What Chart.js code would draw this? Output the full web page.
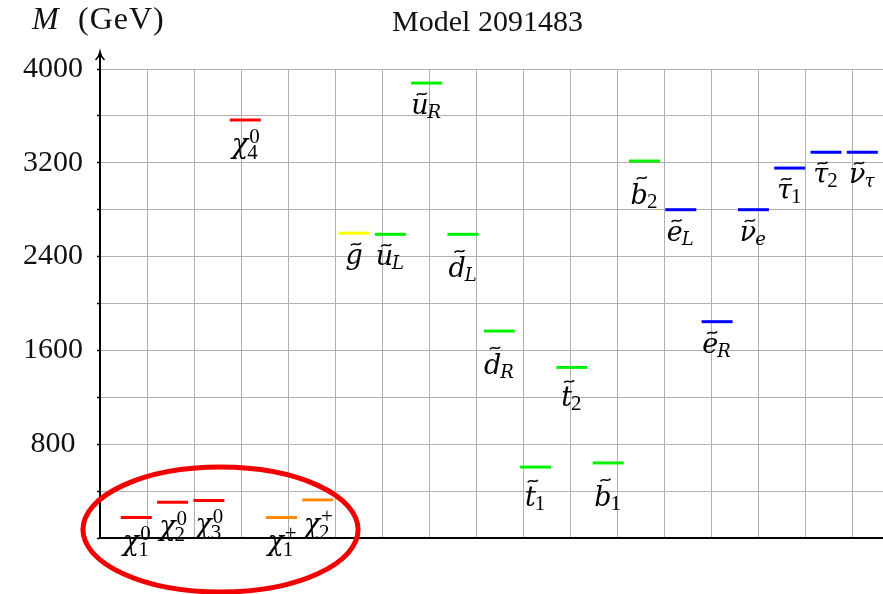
<!DOCTYPE html>
<html>
<head>
<meta charset="utf-8">
<title>Model 2091483</title>
<script src="https://cdn.jsdelivr.net/npm/chart.js@4.4.1/dist/chart.umd.min.js"></script>
<style>
  html, body { margin: 0; padding: 0; background: #fff; }
  #spectrum { display: block; }
</style>
</head>
<body>
<canvas id="spectrum" width="883" height="594"></canvas>
<script>
// sparticle mass spectrum, one short level per state (GeV)
const particles = ['χ_1^0', 'χ_2^0', 'χ_3^0', 'χ_4^0', 'χ_1^+', 'χ_2^+',
                   '~g', '~u_L', '~u_R', '~d_L', '~d_R', '~t_1', '~t_2', '~b_1', '~b_2',
                   '~e_L', '~e_R', '~ν_e', '~τ_1', '~τ_2', '~ν_τ'];
const masses = [175, 305, 320, 3565, 175, 325,
                2600, 2590, 3880, 2590, 1765, 605, 1455, 640, 3215,
                2800, 1845, 2800, 3155, 3290, 3290];
const families = ['neutralino', 'neutralino', 'neutralino', 'neutralino', 'chargino', 'chargino',
                  'gluino', 'squark', 'squark', 'squark', 'squark', 'squark', 'squark', 'squark', 'squark',
                  'slepton', 'slepton', 'slepton', 'slepton', 'slepton', 'slepton'];
const yTickLabels = [800, 1600, 2400, 3200, 4000];

const familyColors = {
    neutralino: '#ff0000',
    chargino: '#ff8a00',
    gluino: '#ffff00',
    squark: '#00f000',
    slepton: '#0000ff'
};

// x runs in slot units (one slot per state), background grid is coarser
const GRID_STEP = 1.2948;
const X_MAX = 21.57;

// red ring around the light gauginos (slot / GeV units)
const ring = { x: 3.32, y: 72, rx: 3.79, ry: 533 };

const SERIF = '"Liberation Serif", "Times New Roman", serif';
const MATH = '"DejaVu Serif", serif';
const TALL = new Set(['b', 'd']);

function parseLabel(s) {
    const tilde = s[0] === '~';
    if (tilde) s = s.slice(1);
    const m = s.match(/^(.)(?:_([^\^]+))?(?:\^(.+))?$/u);
    return { tilde, base: m[1], sub: m[2] || '', sup: m[3] || '' };
}

function scriptFont(t) {
    return /^[0-9+]+$/.test(t) ? `21px ${SERIF}` : `italic 18px ${MATH}`;
}

function drawLabel(ctx, lab, cx, barY) {
    const baseFont = `italic 27px ${MATH}`;
    ctx.font = baseFont;
    const bm = ctx.measureText(lab.base);
    const bw = bm.width;
    const asc = bm.actualBoundingBoxAscent;
    ctx.font = scriptFont(lab.sub);
    const subW = lab.sub ? ctx.measureText(lab.sub).width : 0;
    ctx.font = scriptFont(lab.sup);
    const supW = lab.sup ? ctx.measureText(lab.sup).width : 0;

    const total = bw + Math.max(subW, supW);
    const x0 = cx - total / 2;
    let drop = 33;
    if (lab.tilde) drop = TALL.has(lab.base) ? 43 : (lab.base === 't' ? 39 : 31);
    const base = barY + drop;

    ctx.fillStyle = '#000';
    ctx.textAlign = 'left';
    ctx.textBaseline = 'alphabetic';
    ctx.font = baseFont;
    ctx.fillText(lab.base, x0, base);

    if (lab.tilde) {
        const tx = x0 + bw / 2 + asc * 0.12;
        const ty = base - asc - 5;
        ctx.save();
        ctx.strokeStyle = '#000';
        ctx.lineWidth = 1.5;
        ctx.beginPath();
        ctx.moveTo(tx - 5, ty + 1.3);
        ctx.bezierCurveTo(tx - 2.5, ty - 3, tx + 2.5, ty + 3, tx + 5, ty - 1.3);
        ctx.stroke();
        ctx.restore();
    }
    if (lab.sup) {
        ctx.font = scriptFont(lab.sup);
        ctx.fillText(lab.sup, x0 + bw + 1, base - 10);
    }
    if (lab.sub) {
        ctx.font = scriptFont(lab.sub);
        ctx.fillText(lab.sub, x0 + bw - 1, base + (lab.sup ? 6 : 4));
    }
}

const spectrumDecor = {
    id: 'spectrumDecor',
    afterDatasetsDraw(chart) {
        const ctx = chart.ctx;
        const meta = chart.getDatasetMeta(0);
        ctx.save();
        meta.data.forEach((pt, i) => {
            drawLabel(ctx, parseLabel(particles[i]), pt.x, pt.y);
        });
        ctx.restore();
    },
    afterDraw(chart) {
        const ctx = chart.ctx;
        const { left, top, right } = chart.chartArea;
        ctx.save();

        // arrow on top of the mass axis
        ctx.strokeStyle = '#000';
        ctx.lineWidth = 2;
        ctx.beginPath();
        ctx.moveTo(left, top);
        ctx.lineTo(left, top - 16);
        ctx.stroke();
        ctx.lineWidth = 1.6;
        ctx.beginPath();
        ctx.moveTo(left - 4.5, top - 9);
        ctx.quadraticCurveTo(left - 1, top - 12, left, top - 17);
        ctx.quadraticCurveTo(left + 1, top - 12, left + 4.5, top - 9);
        ctx.stroke();

        // title and axis name
        ctx.fillStyle = '#111';
        ctx.textBaseline = 'alphabetic';
        ctx.textAlign = 'center';
        ctx.font = `30px ${SERIF}`;
        ctx.fillText('Model 2091483', (left + right) / 2 - 4, 31);
        ctx.textAlign = 'left';
        ctx.font = `italic 32px ${SERIF}`;
        ctx.fillText('M', 32, 29);
        ctx.font = `32px ${SERIF}`;
        ctx.letterSpacing = '1px';
        ctx.fillText('(GeV)', 78, 29);
        ctx.letterSpacing = '0px';

        // highlight ring
        const xs = chart.scales.x, ys = chart.scales.y;
        const cx = xs.getPixelForValue(ring.x);
        const cy = ys.getPixelForValue(ring.y);
        const rx = xs.getPixelForValue(ring.x + ring.rx) - cx;
        const ry = cy - ys.getPixelForValue(ring.y + ring.ry);
        ctx.strokeStyle = '#f00000';
        ctx.lineWidth = 5;
        ctx.beginPath();
        ctx.ellipse(cx, cy, rx, ry, 0, 0, Math.PI * 2);
        ctx.stroke();
        ctx.restore();
    }
};

const points = masses.map((m, i) => ({ x: i + 1, y: m }));
const colors = families.map(f => familyColors[f]);

new Chart(document.getElementById('spectrum'), {
    type: 'scatter',
    data: {
        datasets: [{
            data: points,
            pointStyle: 'line',
            pointRadius: 15.5,
            pointHoverRadius: 15.5,
            pointBorderWidth: 3,
            pointHoverBorderWidth: 3,
            pointBorderColor: colors,
            pointBackgroundColor: colors
        }]
    },
    options: {
        responsive: false,
        animation: false,
        layout: { autoPadding: false, padding: { top: 69, bottom: 56, left: 0, right: 0 } },
        plugins: {
            legend: { display: false },
            tooltip: { enabled: false },
            title: { display: false }
        },
        scales: {
            x: {
                type: 'linear',
                min: 0,
                max: X_MAX,
                afterBuildTicks: (axis) => {
                    const ticks = [];
                    for (let v = 0; v <= X_MAX + 1e-6; v += GRID_STEP) ticks.push({ value: v });
                    axis.ticks = ticks;
                },
                ticks: { display: false },
                grid: { color: '#b0b0b0', lineWidth: 1, drawTicks: false },
                border: { color: '#000', width: 2 }
            },
            y: {
                min: 0,
                max: 4000,
                afterFit: (axis) => { axis.width = 100; },
                ticks: {
                    stepSize: 400,
                    autoSkip: false,
                    crossAlign: 'center',
                    padding: 14,
                    color: '#111',
                    font: { family: SERIF, size: 30 },
                    callback: (v) => yTickLabels.includes(v) ? String(v) : ''
                },
                grid: { color: '#b0b0b0', lineWidth: 1, tickColor: '#000', tickLength: 3, tickWidth: 1.5 },
                border: { color: '#000', width: 2 }
            }
        }
    },
    plugins: [spectrumDecor]
});
</script>
</body>
</html>
